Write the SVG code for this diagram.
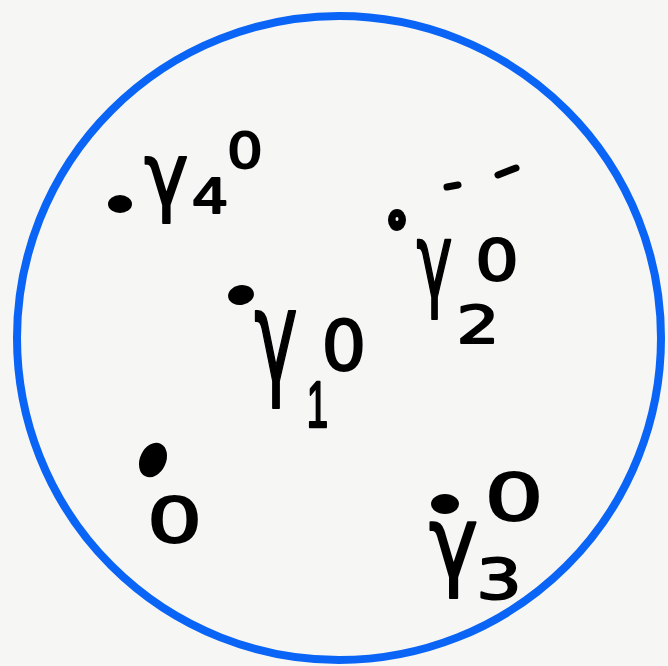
<svg xmlns="http://www.w3.org/2000/svg" width="668" height="666" viewBox="0 0 668 666">
<style>
.t{font-family:"DejaVu Sans",sans-serif;fill:#000;stroke:#000;stroke-width:2;stroke-linejoin:round;text-anchor:middle}
.one{font-family:"Liberation Sans",sans-serif;stroke-width:2.5}
.dot{fill:#000}
.dash{stroke:#000;stroke-width:7;stroke-linecap:round}
</style>
<rect width="668" height="666" fill="#f6f6f4"/>
<circle id="disk" cx="339" cy="338" r="322" fill="none" stroke="#0a64f6" stroke-width="8"/>
<g id="connectors"/>
<g id="gamma4">
<ellipse class="dot" cx="120" cy="204" rx="12" ry="9"/>
<text class="t" font-size="87" transform="translate(166.5,205) scale(0.86,1)">γ</text>
<text class="t" font-size="48" transform="translate(210,213) scale(1.2,1)">4</text>
<text class="t" font-size="49" transform="translate(245,168) scale(1.15,1)">0</text>
</g>
<g id="gamma2">
<ellipse class="dot" cx="397" cy="220" rx="9" ry="11"/>
<ellipse cx="397" cy="219" rx="1.5" ry="2" fill="#f6f6f4"/>
<line class="dash" x1="447" y1="187" x2="458" y2="185"/>
<line class="dash" x1="498" y1="175" x2="516" y2="168"/>
<text class="t" font-size="105" transform="translate(434.5,297) scale(0.58,1)">γ</text>
<text class="t" font-size="52" transform="translate(478,343) scale(1.3,1)">2</text>
<text class="t" font-size="57" transform="translate(497,281) scale(1.2,1)">0</text>
</g>
<g id="gamma1">
<ellipse class="dot" cx="241" cy="295" rx="13" ry="10" transform="rotate(-10 241 295)"/>
<text class="t" font-size="129" transform="translate(276,381) scale(0.57,1)">γ</text>
<text class="t one" font-size="64" transform="translate(317.4,427) scale(0.6,1)">1</text>
<text class="t" font-size="69" transform="translate(344,370) scale(1.02,1)">0</text>
</g>
<g id="origin">
<ellipse class="dot" cx="153" cy="460" rx="13" ry="18" transform="rotate(25 153 460)"/>
<text class="t" font-size="62" transform="translate(174.5,542) scale(1.4,1)">0</text>
</g>
<g id="gamma3">
<ellipse class="dot" cx="445" cy="504" rx="14" ry="10"/>
<text class="t" font-size="99" transform="translate(453.5,577) scale(0.84,1)">γ</text>
<text class="t" font-size="55" transform="translate(499,598) scale(1.3,1)">3</text>
<text class="t" font-size="64" transform="translate(514,520) scale(1.45,1)">0</text>
</g>
</svg>
